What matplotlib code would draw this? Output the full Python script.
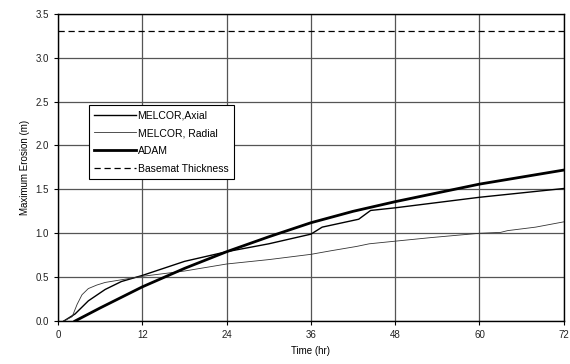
import numpy as np
from matplotlib import pyplot as plt

plt.rcParams['font.family'] = ['Liberation Sans', 'DejaVu Sans']

# data
t_adam = [2.4, 6, 12, 18, 24, 30, 36, 42, 48, 54, 60, 66, 72]
v_adam = [0.0, 0.15, 0.39, 0.60, 0.79, 0.96, 1.12, 1.25, 1.36, 1.46, 1.56, 1.64, 1.72]

t_axial = [0.8, 2.4, 4.3, 6.7, 9, 12, 18, 24, 30, 36, 37.6, 42.8, 44.5, 48, 53, 60, 66, 72]
v_axial = [0.0, 0.08, 0.23, 0.36, 0.45, 0.52, 0.68, 0.79, 0.88, 0.99, 1.07, 1.16, 1.26, 1.29, 1.34, 1.41, 1.46, 1.51]

t_radial = [0.8, 2.0, 2.7, 3.4, 4.3, 5.5, 6.7, 9, 12, 18, 24, 30, 36, 38.8, 42.5, 44.3, 48, 53, 60, 63, 64, 68, 72]
v_radial = [0.0, 0.05, 0.19, 0.30, 0.37, 0.41, 0.44, 0.47, 0.51, 0.57, 0.65, 0.70, 0.76, 0.80, 0.85, 0.88, 0.91, 0.95, 1.00, 1.01, 1.03, 1.07, 1.13]

basemat = 3.3
xticks = [0, 12, 24, 36, 48, 60, 72]
yticks = np.arange(0, 3.51, 0.5)

fig = plt.figure(figsize=(5.7, 3.64), dpi=100)
ax = fig.add_axes([0.102, 0.118, 0.887, 0.844])

ax.plot(t_axial, v_axial, "-", color="black", lw=1.0, label="MELCOR,Axial")
ax.plot(t_radial, v_radial, "-", color="#333333", lw=0.6, label="MELCOR, Radial")
ax.plot(t_adam, v_adam, "-", color="black", lw=2.0, label="ADAM")
ax.axhline(basemat, color="black", lw=0.9, ls=(0, (5, 3)), label="Basemat Thickness")

ax.set_xlim(0, 72)
ax.set_ylim(0, 3.5)
ax.set_xticks(xticks)
ax.set_yticks(yticks)
ax.set_yticklabels(["%.1f" % y for y in yticks])
ax.grid(True, color="#555555", lw=0.9)
ax.set_axisbelow(True)
for s in ax.spines.values():
    s.set_linewidth(1.0)
ax.tick_params(labelsize=7, length=3, width=0.8, colors="black", labelcolor="#222222")

ax.set_xlabel("Time (hr)", fontsize=7)
ax.set_ylabel("Maximum Erosion (m)", fontsize=7)

leg = ax.legend(loc="upper left", bbox_to_anchor=(0.05, 0.72), fontsize=7.5,
                fancybox=False, edgecolor="black", framealpha=1, handlelength=4.0,
                borderpad=0.5, labelspacing=0.75, handletextpad=0.2)
leg.get_frame().set_linewidth(0.8)

plt.savefig("out.png", dpi=100)
